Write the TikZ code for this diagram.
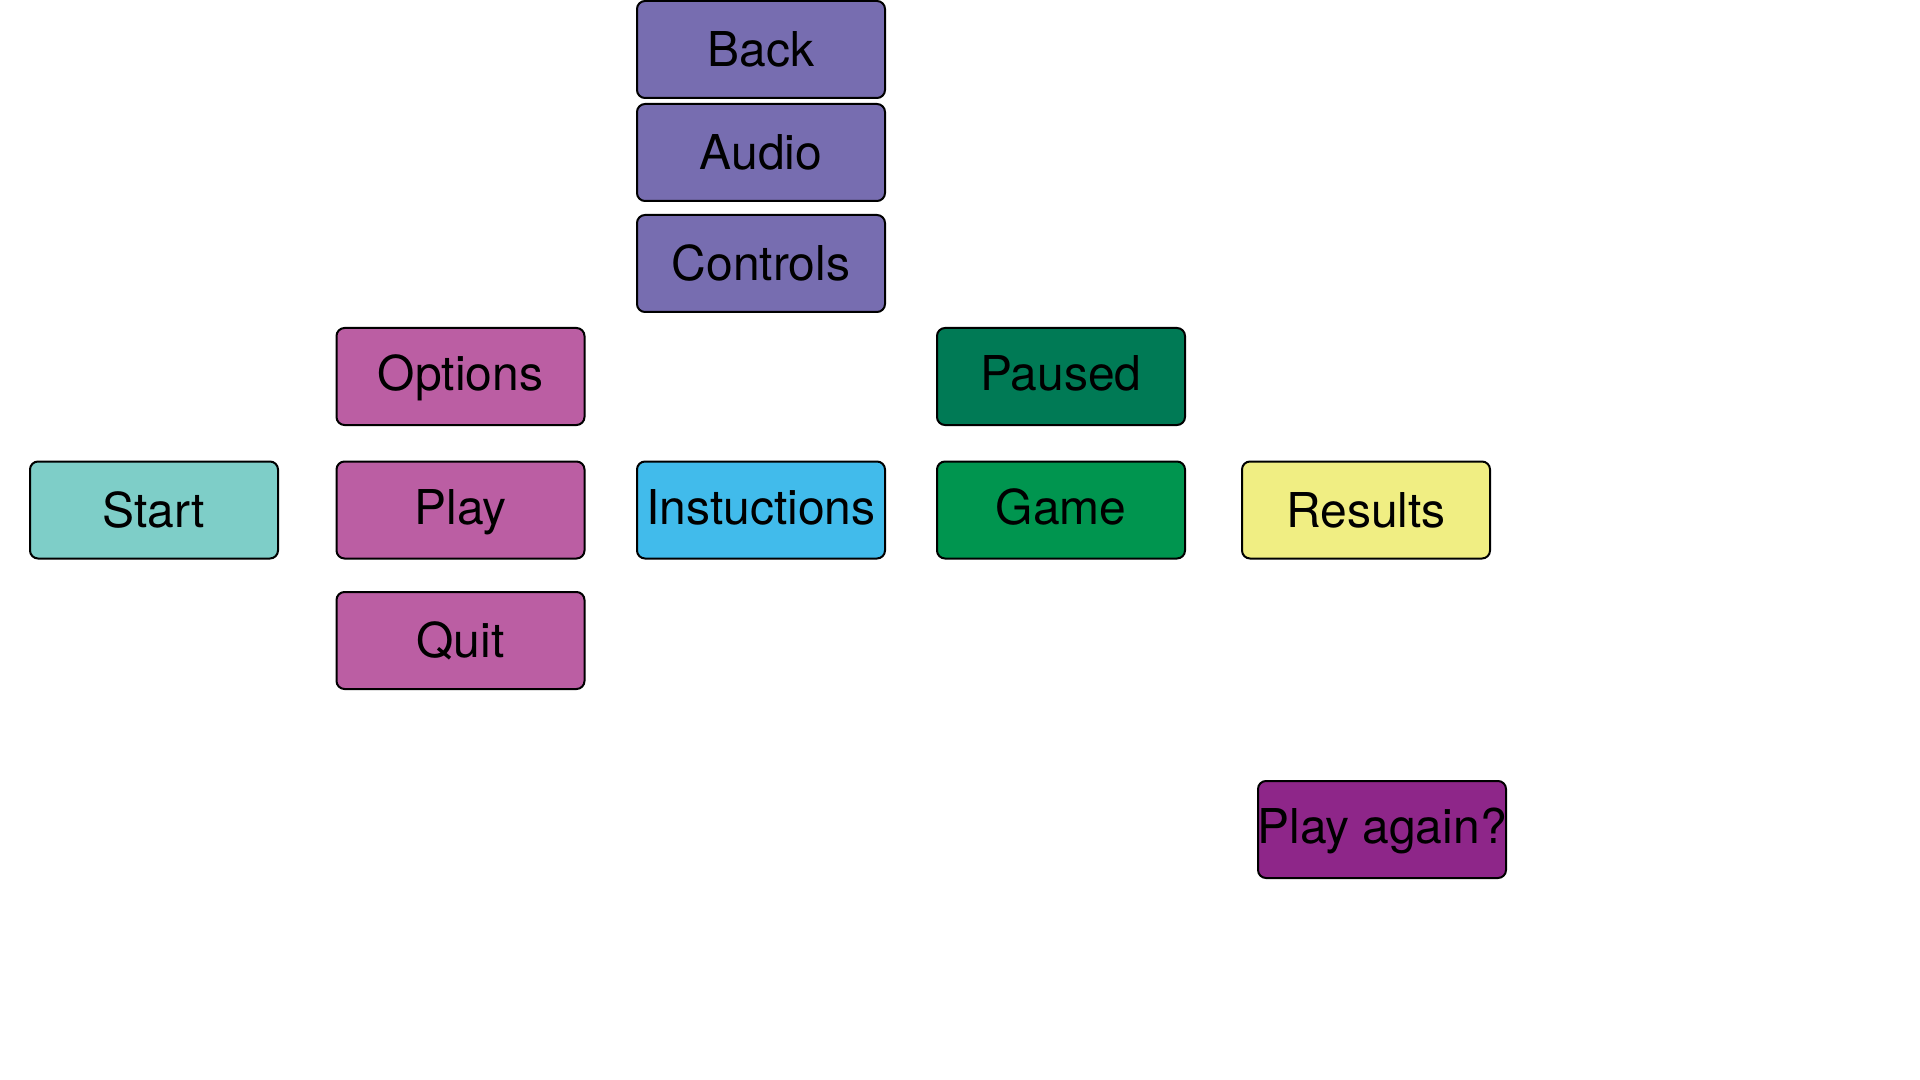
\documentclass[tikz,border=0pt]{standalone}
\usepackage{fontspec}
\setmainfont{TeX Gyre Heros}
\definecolor{cPurple}{RGB}{119,109,176}
\definecolor{cTeal}{RGB}{126,206,200}
\definecolor{cMagenta}{RGB}{187,94,163}
\definecolor{cSky}{RGB}{65,187,235}
\definecolor{cDarkGreen}{RGB}{0,122,85}
\definecolor{cGreen}{RGB}{0,149,79}
\definecolor{cYellow}{RGB}{240,238,131}
\definecolor{cViolet}{RGB}{142,38,137}
\tikzset{
  menubox/.style={draw=black, line width=1pt, rounded corners=4pt,
    minimum width=124pt, minimum height=48.5pt, inner sep=0pt, outer sep=0pt,
    font=\fontsize{24}{28}\selectfont, text=black,
    text height=23.2pt, text depth=6pt},
  raised/.style={text height=20.2pt, text depth=6pt}
}
\begin{document}
\begin{tikzpicture}[x=0.5pt,y=-0.5pt]
\useasboundingbox (0,0) rectangle (1920,1080);
\node[menubox, fill=cPurple] (back) at (761,49.5) {Back};
\node[menubox, fill=cPurple] (audio) at (761,152.5) {Audio};
\node[menubox, fill=cPurple] (controls) at (761,263.5) {Controls};
\node[menubox, raised, fill=cMagenta] (options) at (460.5,376.5) {Options};
\node[menubox, raised, fill=cDarkGreen] (paused) at (1061,376.5) {Paused};
\node[menubox, fill=cTeal] (start) at (154,510) {Start};
\node[menubox, raised, fill=cMagenta] (play) at (460.5,510) {Play};
\node[menubox, raised, fill=cSky] (instr) at (761,510) {Instuctions};
\node[menubox, raised, fill=cGreen] (game) at (1061,510) {Game};
\node[menubox, fill=cYellow] (results) at (1366,510) {Results};
\node[menubox, fill=cMagenta] (quit) at (460.5,640.5) {Quit};
\node[menubox, raised, fill=cViolet] (again) at (1382,829.5) {\makebox[0pt]{Play again?}};
\end{tikzpicture}
\end{document}
